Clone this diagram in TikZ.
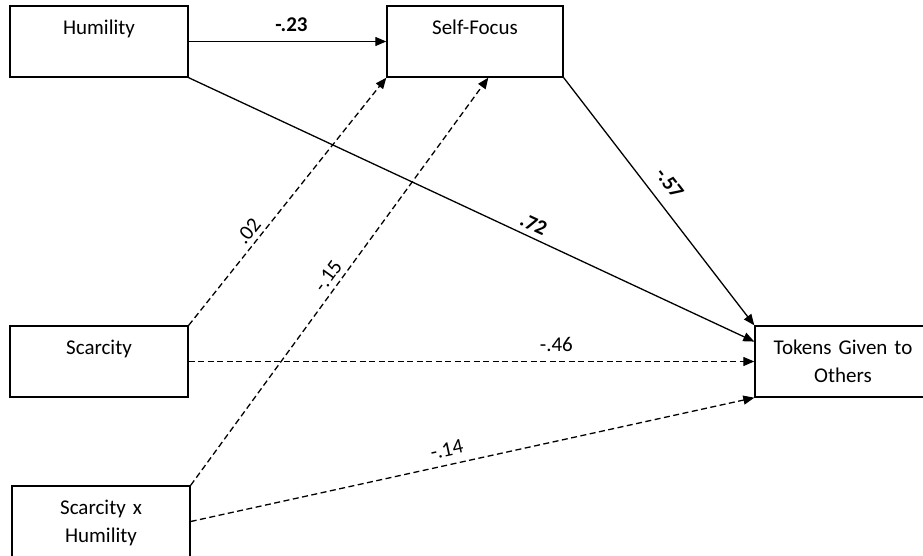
\documentclass[tikz,border=0pt]{standalone}
\usepackage{fontspec}
\setmainfont{Carlito}
\usetikzlibrary{arrows.meta,calc}
\begin{document}
\begin{tikzpicture}[x=1pt,y=-1pt,
  varbox/.style={draw, line width=1.4pt, inner sep=0pt, text width=#1,
    align=center, text height=28.5pt, text depth=42.5pt,
    font=\fontsize{21}{28}\selectfont},
  varbox/.default=178pt,
  link/.style={line width=1.3pt, -{Triangle[length=11pt,width=9pt]}},
  dlink/.style={link, dash pattern=on 6pt off 3.5pt},
  coef/.style={font=\fontsize{21}{25}\selectfont, inner sep=2pt, sloped, above=#1},
  bcoef/.style={coef=#1, font=\fontsize{21}{25}\selectfont\bfseries}]
\useasboundingbox (0,0) rectangle (923,556);

% variables
\node[varbox] (hum) at (99,41.5) {Humility};
\node[varbox=176pt] (self) at (475,41.5) {Self-Focus};
\node[varbox] (scar) at (99,361.5) {Scarcity};
\node[varbox] (sxh) at (101,521.5) {Scarcity x\\Humility};
\node[varbox=176pt] (tok) at (843,361.5) {Tokens Given to\\Others};

% paths with coefficients
\draw[link] (hum.east) -- (self.west)
  node[bcoef=7pt, pos=0.52] (c23) {-.23};
\draw[link] (hum.south east) -- ($(tok.north west)!0.225!(tok.south west)$)
  node[bcoef=3.5pt, pos=0.60] (c72) {.72};
\draw[link] (self.south east) -- (tok.north west)
  node[bcoef=10pt, pos=0.475] (c57) {-.57};
\draw[dlink] (scar.east) -- (tok.west)
  node[coef=7pt, pos=0.65] (c46) {-.46};
\draw[dlink] (scar.north east) -- (self.south west)
  node[coef=2.5pt, pos=0.35] (c02) {.02};
\draw[dlink] (sxh.north east) -- ($(self.south west)!0.575!(self.south east)$)
  node[coef=3pt, pos=0.495] (c15) {-.15};
\draw[dlink] (sxh.east) -- (tok.south west)
  node[coef=5.7pt, pos=0.46] (c14) {-.14};
\end{tikzpicture}
\end{document}
